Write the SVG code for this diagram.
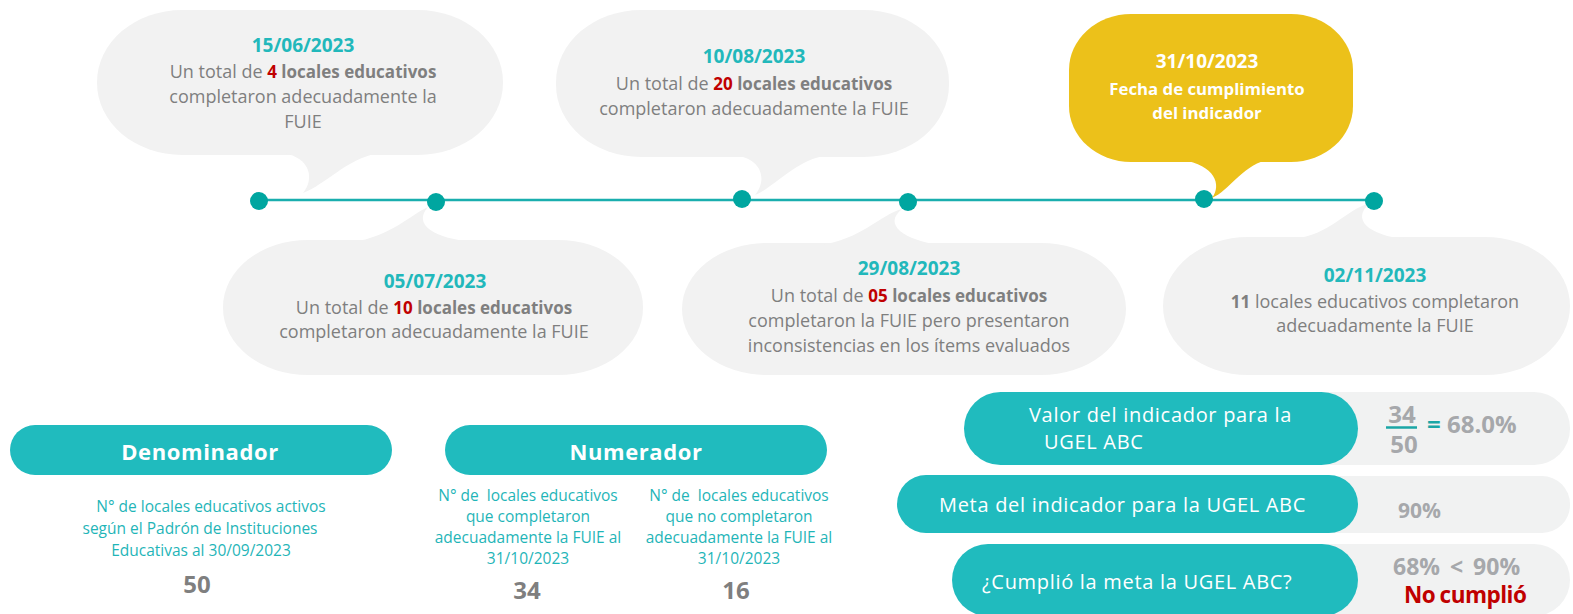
<svg xmlns="http://www.w3.org/2000/svg" width="1573" height="614" viewBox="0 0 1573 614">
<style>
text{font-family:"Open Sans","Noto Sans",sans-serif}
.bub{fill:#f2f2f2}
.ylw{fill:#ecc11a}
.date{font-size:19px;font-weight:bold;fill:#22b8bb;text-anchor:middle}
.body{font-size:18px;fill:#7f7f7f;text-anchor:middle}
.b{font-weight:bold;font-size:17px}
.red{fill:#c00000}
.wdate{font-size:19px;font-weight:bold;fill:#ffffff;text-anchor:middle}
.wb{font-size:16.8px;font-weight:bold;fill:#ffffff;text-anchor:middle}
.dot{fill:#00a6a0}
.pill{fill:#20bbbe}
.gpill{fill:#f1f2f2}
.ptitle{font-size:22px;font-weight:bold;fill:#ffffff;text-anchor:middle;letter-spacing:0.6px}
.desc{font-size:15.5px;fill:#1fb5b8;text-anchor:middle}
.num{font-size:24px;font-weight:bold;fill:#7f7f7f;text-anchor:middle}
.lbl{font-size:20px;fill:#ffffff;letter-spacing:0.7px}
.val{font-weight:bold;fill:#a6a8ab}
</style>

<g id="bubble-1506">
<rect class="bub" x="97" y="10" width="406" height="145" rx="85" ry="72"/>
<path class="bub" d="M283 153 C312 158 314 180 303 193 C325 185 345 160 378 153 Z"/>
<text class="date" x="303" y="52">15/06/2023</text>
<text class="body" x="303" y="78">Un total de <tspan class="b red">4</tspan><tspan class="b"> locales educativos</tspan></text>
<text class="body" x="303" y="103">completaron adecuadamente la</text>
<text class="body" x="303" y="128">FUIE</text>
</g>

<g id="bubble-0507">
<rect class="bub" x="223" y="240" width="420" height="135" rx="85" ry="67"/>
<path class="bub" d="M428 207 C410 215 390 237 352 242 L472 242 C435 238 412 225 428 207 Z"/>
<text class="date" x="435" y="288">05/07/2023</text>
<text class="body" x="434" y="314">Un total de <tspan class="b red">10</tspan><tspan class="b"> locales educativos</tspan></text>
<text class="body" x="434" y="338">completaron adecuadamente la FUIE</text>
</g>

<g id="bubble-1008">
<rect class="bub" x="556" y="10" width="393" height="147" rx="85" ry="72"/>
<path class="bub" d="M735 155 C765 160 766 182 755 195 C775 187 795 160 828 155 Z"/>
<text class="date" x="754" y="63">10/08/2023</text>
<text class="body" x="754" y="90">Un total de <tspan class="b red">20</tspan><tspan class="b"> locales educativos</tspan></text>
<text class="body" x="754" y="115">completaron adecuadamente la FUIE</text>
</g>

<g id="bubble-2908">
<rect class="bub" x="682" y="243" width="444" height="132" rx="85" ry="66"/>
<path class="bub" d="M902 209 C880 215 860 240 820 245 L940 245 C905 240 882 225 902 209 Z"/>
<text class="date" x="909" y="275">29/08/2023</text>
<text class="body" x="909" y="302">Un total de <tspan class="b red">05</tspan><tspan class="b"> locales educativos</tspan></text>
<text class="body" x="909" y="327">completaron la FUIE pero presentaron</text>
<text class="body" x="909" y="352">inconsistencias en los ítems evaluados</text>
</g>

<g id="bubble-0211">
<rect class="bub" x="1163" y="237" width="407" height="138" rx="85" ry="69"/>
<path class="bub" d="M1370 203 C1345 210 1330 235 1293 239 L1404 239 C1370 235 1350 220 1370 203 Z"/>
<text class="date" x="1375" y="282">02/11/2023</text>
<text class="body" x="1375" y="308"><tspan class="b">11</tspan> locales educativos completaron</text>
<text class="body" x="1375" y="332">adecuadamente la FUIE</text>
</g>

<g id="connectors">
<line x1="259" y1="200" x2="1374" y2="200" stroke="#1aaeae" stroke-width="2.5"/>
</g>

<g id="timeline-dots">
<circle class="dot" cx="259" cy="201" r="9"/>
<circle class="dot" cx="436" cy="202" r="9"/>
<circle class="dot" cx="742" cy="199" r="9"/>
<circle class="dot" cx="908" cy="202" r="9"/>
<circle class="dot" cx="1204" cy="199" r="9"/>
<circle class="dot" cx="1374" cy="201" r="9"/>
</g>

<g id="bubble-3110">
<rect class="ylw" x="1069" y="14" width="284" height="148" rx="62" ry="56"/>
<path class="ylw" d="M1182 160 C1215 165 1222 185 1212 198 C1230 190 1240 168 1266 160 Z"/>
<text class="wdate" x="1207" y="68">31/10/2023</text>
<text class="wb" x="1207" y="95">Fecha de cumplimiento</text>
<text class="wb" x="1207" y="119">del indicador</text>
</g>

<g id="denominador">
<rect class="pill" x="10" y="425" width="382" height="50" rx="25"/>
<text class="ptitle" x="200" y="460">Denominador</text>
<text class="desc" x="211" y="512">N° de locales educativos activos</text>
<text class="desc" x="200" y="534">según el Padrón de Instituciones</text>
<text class="desc" x="201" y="556">Educativas al 30/09/2023</text>
<text class="num" x="197" y="593">50</text>
</g>

<g id="numerador">
<rect class="pill" x="445" y="425" width="382" height="50" rx="25"/>
<text class="ptitle" x="636" y="460">Numerador</text>
<text class="desc" x="528" y="501" xml:space="preserve">N° de  locales educativos</text>
<text class="desc" x="528" y="522">que completaron</text>
<text class="desc" x="528" y="543">adecuadamente la FUIE al</text>
<text class="desc" x="528" y="564">31/10/2023</text>
<text class="num" x="527" y="599">34</text>
<text class="desc" x="739" y="501" xml:space="preserve">N° de  locales educativos</text>
<text class="desc" x="739" y="522">que no completaron</text>
<text class="desc" x="739" y="543">adecuadamente la FUIE al</text>
<text class="desc" x="739" y="564">31/10/2023</text>
<text class="num" x="736" y="599">16</text>
</g>

<g id="valor-indicador">
<rect class="gpill" x="1200" y="392" width="370" height="73" rx="36"/>
<rect class="pill" x="964" y="392" width="394" height="73" rx="36.5"/>
<text class="lbl" x="1029" y="422">Valor del indicador para la</text>
<text class="lbl" x="1044" y="449">UGEL ABC</text>
<text class="val" x="1402" y="423" font-size="24" text-anchor="middle">34</text>
<line x1="1386" y1="427.5" x2="1417" y2="427.5" stroke="#1aa6a6" stroke-width="2.5"/>
<text class="val" x="1404" y="453" font-size="24" text-anchor="middle">50</text>
<text class="val" x="1427" y="433" font-size="24"><tspan fill="#1aa6a6">=</tspan> 68.0%</text>
</g>

<g id="meta-indicador">
<rect class="gpill" x="1200" y="476" width="370" height="57" rx="28"/>
<rect class="pill" x="897" y="475" width="461" height="58" rx="29"/>
<text class="lbl" x="939" y="512">Meta del indicador para la UGEL ABC</text>
<text class="val" x="1398" y="518" font-size="21">90%</text>
</g>

<g id="cumplio-meta">
<rect class="gpill" x="1200" y="544" width="370" height="72" rx="36"/>
<rect class="pill" x="952" y="544" width="406" height="72" rx="36"/>
<text class="lbl" x="982" y="589">¿Cumplió la meta la UGEL ABC?</text>
<text class="val" x="1393" y="575" font-size="23" word-spacing="4">68% &lt; 90%</text>
<text x="1404" y="603" font-size="22.5" font-weight="bold" fill="#c00000" letter-spacing="-0.5" word-spacing="-1">No cumplió</text>
</g>
</svg>
